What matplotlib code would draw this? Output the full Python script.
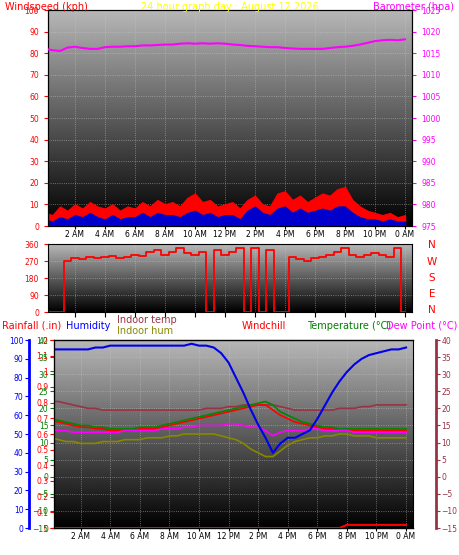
import numpy as np
import matplotlib
matplotlib.use("Agg")
import matplotlib.pyplot as plt

hours = [h * 0.5 for h in range(49)]
hour_ticks = [2, 4, 6, 8, 10, 12, 14, 16, 18, 20, 22, 24]
hour_labels = ["2 AM", "4 AM", "6 AM", "8 AM", "10 AM", "12 PM", "2 PM", "4 PM", "6 PM", "8 PM", "10 PM", "0 AM"]

gust = [6, 5, 9, 7, 10, 8, 11, 9, 8, 10, 7, 9, 8, 11, 9, 12, 10, 11, 9, 13, 15, 11, 12, 9, 10, 11, 8, 12, 14, 10, 9, 15, 16, 12, 14, 11, 13, 15, 14, 17, 18, 12, 9, 7, 6, 5, 6, 4, 5]
wind = [3, 2, 4, 3, 5, 4, 6, 4, 3, 5, 3, 4, 4, 6, 4, 6, 5, 5, 4, 6, 7, 5, 6, 4, 5, 5, 3, 7, 9, 6, 5, 8, 9, 6, 8, 6, 7, 8, 7, 9, 9, 6, 4, 3, 3, 2, 3, 2, 2]
baro = [1016, 1015.7, 1015.5, 1016.3, 1016.5, 1016.2, 1016, 1016, 1016.4, 1016.5, 1016.5, 1016.6, 1016.6, 1016.8, 1016.8, 1016.9, 1017, 1017, 1017.2, 1017.3, 1017.2, 1017.3, 1017.2, 1017.3, 1017.2, 1017, 1016.9, 1016.7, 1016.6, 1016.5, 1016.4, 1016.4, 1016.2, 1016.1, 1016, 1016, 1016, 1016, 1016.2, 1016.4, 1016.5, 1016.7, 1017, 1017.4, 1017.8, 1018, 1018.1, 1018, 1018.2]
direction = [0, 0, 0, 270, 285, 280, 290, 285, 290, 295, 285, 290, 300, 295, 320, 330, 300, 320, 340, 310, 300, 320, 0, 330, 300, 320, 340, 0, 340, 0, 330, 0, 0, 290, 280, 270, 285, 290, 300, 320, 340, 300, 290, 300, 310, 300, 290, 340, 0]

humidity = [95, 95, 95, 95, 95, 95, 96, 96, 97, 97, 97, 97, 97, 97, 97, 97, 97, 97, 97, 98, 97, 97, 96, 93, 88, 80, 72, 63, 55, 48, 40, 45, 48, 48, 50, 52, 58, 65, 72, 78, 83, 87, 90, 92, 93, 94, 95, 95, 96]
temperature = [17, 16.5, 16, 15.5, 15, 15, 14.5, 14.5, 14, 14, 14, 14, 14.5, 14.5, 14.5, 15, 15.5, 16, 16.5, 17, 17.5, 18, 18.5, 19, 19.5, 20, 20.5, 21, 21.5, 22, 21, 19, 18, 17, 16, 15.5, 15, 14.5, 14.5, 14, 14, 14, 14, 14, 14, 14, 14, 14, 14]
windchill = [16.5, 16, 15.5, 15, 14.5, 14.5, 14, 14, 13.5, 13.5, 13.5, 13.5, 14, 14, 14, 14.5, 15, 15.5, 16, 16.5, 17, 17.5, 18, 18.5, 19, 19.5, 20, 20.5, 21, 21, 19.5, 18, 17, 16, 15.5, 15, 14.5, 14, 14, 13.5, 13.5, 13.5, 13.5, 13.5, 13.5, 13.5, 13.5, 13.5, 13.5]
dewpoint = [14, 13.5, 13.5, 13, 13, 13, 13, 13, 13, 13, 13.5, 13.5, 13.5, 13.5, 13.5, 14, 14, 14, 14.5, 14.5, 15, 15, 15, 15, 15.5, 15.5, 15, 14.5, 14.5, 13.5, 12, 13, 13.5, 13.5, 13.5, 14, 14, 13.5, 13.5, 13.5, 13.5, 13, 13, 13, 13, 13, 13, 13, 13]
indoor_temp = [22, 22, 21.5, 21, 20.5, 20, 20, 19.5, 19.5, 19.5, 19.5, 19.5, 19.5, 19.5, 19.5, 19.5, 19.5, 19.5, 19.5, 19.5, 19.5, 20, 20, 20, 20.5, 20.5, 21, 21, 21, 21, 21, 20.5, 20, 19.5, 19.5, 19.5, 19.5, 19.5, 19.5, 20, 20, 20, 20.5, 20.5, 21, 21, 21, 21, 21]
indoor_hum = [48, 47, 46, 46, 45, 45, 45, 46, 46, 46, 47, 47, 47, 48, 48, 48, 49, 49, 50, 50, 50, 50, 50, 49, 48, 47, 45, 42, 40, 38, 38, 41, 44, 46, 47, 48, 48, 49, 49, 50, 50, 49, 49, 49, 48, 48, 48, 48, 48]
rainfall = [0]*40 + [0.02]*9

XL = (0.2, 24.47)
fig = plt.figure(figsize=(4.59, 5.55), dpi=100, facecolor="white")
W, H = 459, 555
def ax_at(x0, y0, x1, y1):
    return fig.add_axes([x0/W, 1-y1/H, (x1-x0)/W, (y1-y0)/H])

grad = np.linspace(0.72, 0.0, 256).reshape(-1, 1)
def bg(ax):
    ax.imshow(grad, cmap="gray", vmin=0, vmax=1, aspect="auto", extent=[0, 1, 0, 1],
              transform=ax.transAxes, zorder=0)
    ax.grid(color="#cccccc", linestyle=":", linewidth=0.6, alpha=0.6)
    for s in ax.spines.values():
        s.set_color("black")

fs = 5.5
PX = 72 / 100.0  # points per pixel
# Panel 1
a1 = ax_at(48, 10, 412, 226)
bg(a1)
a1.fill_between(hours, gust, color="red", zorder=2)
a1.fill_between(hours, wind, color="#0000cc", zorder=3)
a1.set_xlim(*XL); a1.set_ylim(0, 100)
a1.set_yticks(range(0, 101, 10))
a1.tick_params(axis="y", colors="red", labelsize=fs, length=3)
a1.set_xticks(hour_ticks); a1.set_xticklabels(hour_labels, fontsize=fs)
a1.tick_params(axis="x", length=2, pad=1)
b1 = a1.twinx()
b1.plot(hours, baro, color="#ff00ff", lw=1.5, zorder=4)
b1.set_ylim(975, 1025); b1.set_yticks(range(975, 1026, 5))
b1.tick_params(axis="y", colors="#ff00ff", labelsize=fs, length=3)
fig.text(5/W, 1-7/H, "Windspeed (kph)", color="red", fontsize=7, va="center")
fig.text(230/W, 1-7/H, "24 hour graph day : August 12 2026", color="yellow", fontsize=7, va="center", ha="center")
fig.text(454/W, 1-7/H, "Barometer (hpa)", color="#ff00ff", fontsize=7, va="center", ha="right")

# Panel 2
a2 = ax_at(48, 244, 412, 312)
bg(a2)
a2.plot(hours, direction, color="red", lw=1.3, drawstyle="steps-mid")
a2.set_xlim(*XL); a2.set_ylim(0, 360)
a2.set_yticks(range(0, 361, 90))
a2.tick_params(axis="y", colors="red", labelsize=fs, length=3)
a2.set_xticks(hour_ticks); a2.set_xticklabels([])
for lab, y in zip(["N", "W", "S", "E", "N"], [245, 262, 278, 294, 310]):
    fig.text(432/W, 1-y/H, lab, color="red", fontsize=7.5, ha="center", va="center")

# Panel 3
a3 = ax_at(54, 340, 413, 528)
bg(a3)
a3.set_xlim(*XL)
a3.set_ylim(-15, 40)
a3.set_xticks(hour_ticks); a3.set_xticklabels(hour_labels, fontsize=fs)
a3.tick_params(axis="x", length=2, pad=1)
a3.set_yticks(range(-15, 41, 5))
a3.yaxis.tick_right()
a3.tick_params(axis="y", colors="green", labelsize=fs, length=3, pad=1)
a3.plot(hours, indoor_temp, color="#993344", lw=1.2, zorder=3)
a3.plot(hours, windchill, color="red", lw=1.2, zorder=4)
a3.plot(hours, temperature, color="#008800", lw=1.2, zorder=5)
a3.plot(hours, dewpoint, color="#ff00ff", lw=1.2, zorder=6)
hum = a3.twinx()
hum.set_ylim(0, 100)
hum.plot(hours, indoor_hum, color="#888800", lw=1.2, zorder=3)
hum.plot(hours, humidity, color="#0000ee", lw=1.5, zorder=7)
hum.spines["left"].set_position(("outward", 25 * PX))
hum.spines["left"].set_visible(True)
hum.spines["right"].set_visible(False)
hum.yaxis.tick_left()
hum.set_yticks(range(0, 101, 10))
hum.tick_params(axis="y", colors="blue", labelsize=fs, length=3, pad=1)
hum.spines["left"].set_color("blue"); hum.spines["left"].set_linewidth(2)
rain = a3.twinx()
rain.set_ylim(0, 1.2)
rain.plot(hours, rainfall, color="red", lw=1.5, zorder=8)
rain.spines["right"].set_visible(False)
rain.yaxis.tick_left()
rain.set_yticks([i/10 for i in range(0, 13)])
rain.set_yticklabels(["0", "0.1", "0.2", "0.3", "0.4", "0.5", "0.6", "0.7", "0.8", "0.9", "1", "1.1", "1.2"])
rain.tick_params(axis="y", colors="red", labelsize=fs, length=3, pad=1)
dp = a3.twinx()
dp.set_ylim(-15, 40)
dp.spines["right"].set_position(("outward", 23 * PX))
dp.spines["right"].set_color("#993344"); dp.spines["right"].set_linewidth(2)
dp.set_yticks(range(-15, 41, 5))
dp.tick_params(axis="y", colors="#993344", labelsize=fs, length=3, pad=1)
for ax in (hum, rain, dp):
    ax.set_xlim(*XL)

fig.text(2/W, 1-326/H, "Rainfall (.in)", color="red", fontsize=7, va="center")
fig.text(66/W, 1-326/H, "Humidity", color="blue", fontsize=7, va="center")
fig.text(117/W, 1-320/H, "Indoor temp", color="#993344", fontsize=7, va="center")
fig.text(117/W, 1-331/H, "Indoor hum", color="#888800", fontsize=7, va="center")
fig.text(242/W, 1-326/H, "Windchill", color="red", fontsize=7, va="center")
fig.text(307/W, 1-326/H, "Temperature (°C)", color="green", fontsize=7, va="center")
fig.text(457/W, 1-326/H, "Dew Point (°C)", color="#ff00ff", fontsize=7, va="center", ha="right")

fig.savefig("out.png", dpi=100, facecolor="white")
